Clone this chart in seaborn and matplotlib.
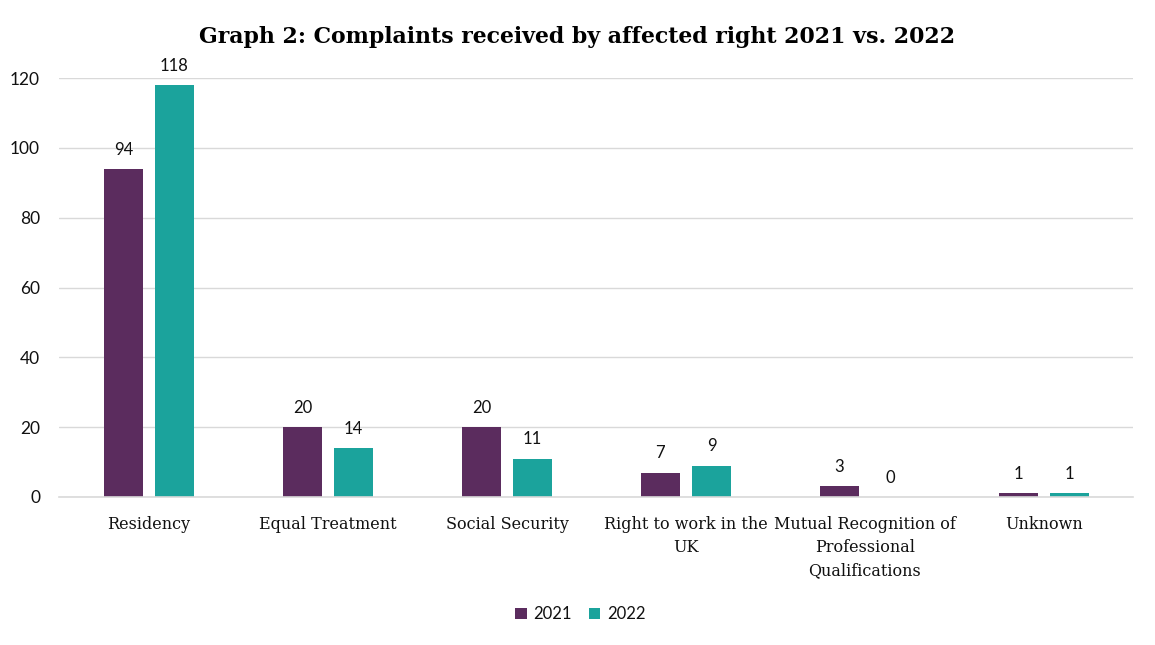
import pandas as pd
import seaborn as sns
import matplotlib.pyplot as plt

categories = ['Residency', 'Equal Treatment', 'Social Security',
              'Right to work in the\nUK',
              'Mutual Recognition of\nProfessional\nQualifications',
              'Unknown']
years = ['2021', '2022']
values_2021 = [94, 20, 20, 7, 3, 1]
values_2022 = [118, 14, 11, 9, 0, 1]
y_ticks = [0, 20, 40, 60, 80, 100, 120]

df = pd.DataFrame({
    'Category': categories * 2,
    'Year': [years[0]] * len(categories) + [years[1]] * len(categories),
    'Complaints': values_2021 + values_2022,
})

sns.set_theme(style='white')
plt.rcParams['font.family'] = ['Lato', 'DejaVu Sans']

fig = plt.figure(figsize=(11.55, 6.45), dpi=100)
ax = fig.add_axes([0.0515, 0.2295, 0.9298, 0.6495])

palette = {'2021': '#5B2C5E', '2022': '#1BA39C'}
sns.barplot(data=df, x='Category', y='Complaints', hue='Year', palette=palette,
            width=0.57, gap=0.22, saturation=1, linewidth=0, ax=ax, legend=True)

for cont in ax.containers:
    ax.bar_label(cont, padding=8, fontsize=12, color='#111111', family='Lato')

ax.set_ylim(0, 120)
ax.set_yticks(y_ticks)
ax.yaxis.grid(True, color='#D9D9D9', linewidth=1)
ax.set_axisbelow(True)
for s in ['top', 'right', 'left']:
    ax.spines[s].set_visible(False)
ax.spines['bottom'].set_color('#D9D9D9')
ax.spines['bottom'].set_linewidth(1.2)
ax.set_xlabel('')
ax.set_ylabel('')
ax.tick_params(axis='y', length=0, labelsize=12.5, pad=14, labelcolor='#111111')
ax.tick_params(axis='x', length=0, pad=14, labelcolor='#111111')
for lab in ax.get_xticklabels():
    lab.set_family('DejaVu Serif')
    lab.set_fontsize(11.5)
    lab.set_linespacing(1.45)
    lab.set_va('top')

ax.legend(loc='upper center', bbox_to_anchor=(0.485, -0.225), ncol=2, frameon=False,
          fontsize=12, handlelength=0.7, handleheight=0.7, handletextpad=0.4,
          columnspacing=1.0, labelcolor='#111111')

fig.suptitle('Graph 2: Complaints received by affected right 2021 vs. 2022',
             x=0.5, y=0.96, fontsize=15.8, fontweight='heavy', family='DejaVu Serif',
             color='black')

fig.savefig('out.png', dpi=100, facecolor='white')
